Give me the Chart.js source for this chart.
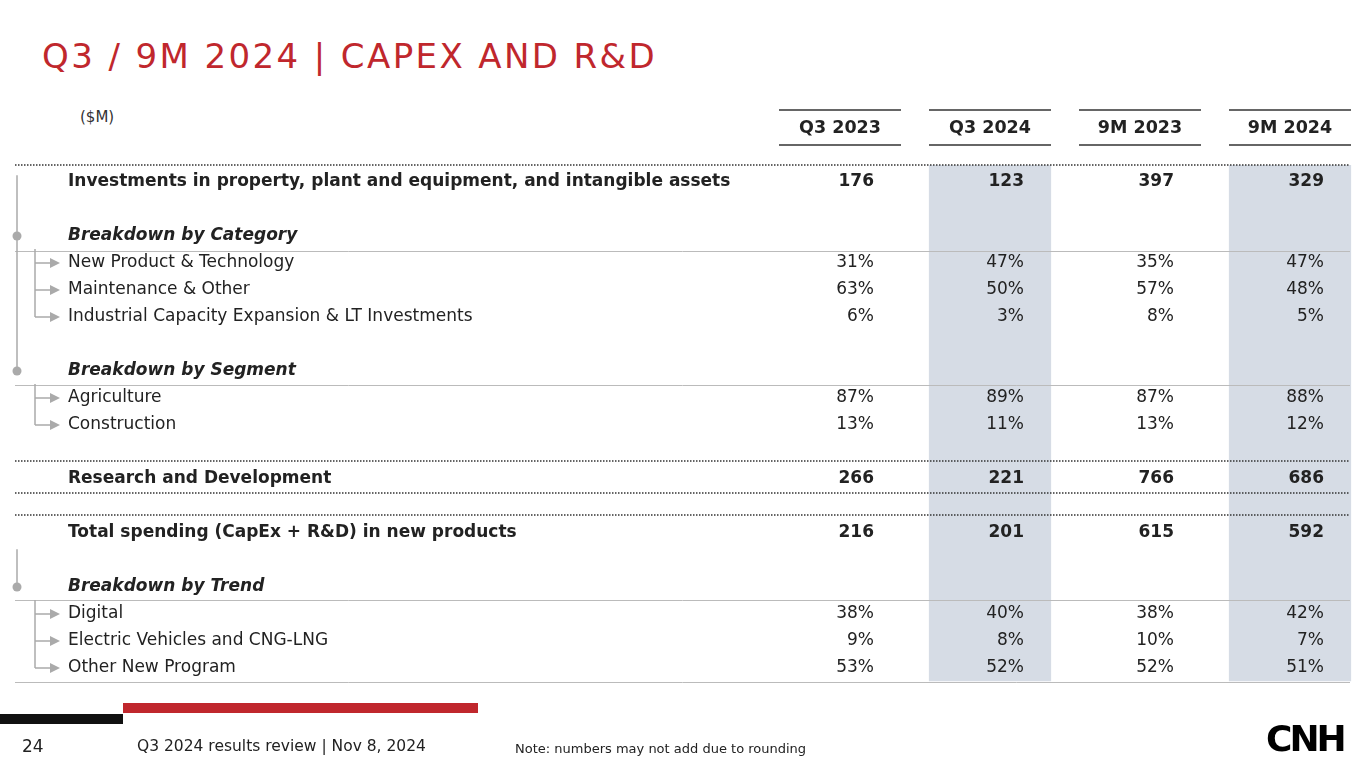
<!DOCTYPE html>
<html>
<head>
<meta charset="utf-8">
<script src="https://cdn.jsdelivr.net/npm/chart.js@4/dist/chart.umd.min.js"></script>
<style>
  body { margin: 0; width: 1365px; height: 768px; overflow: hidden; background: #fff; font-family: "DejaVu Sans", Verdana, sans-serif; position: relative; }
  #title { position: absolute; left: 42px; top: 36px; font-size: 34px; letter-spacing: 2.4px; color: #c0272d; }
  #unit { position: absolute; left: 80px; top: 108px; font-size: 15px; color: #333; }
  #wrap { position: absolute; left: 0; top: 0; width: 1365px; height: 768px; }
  .bar { position: absolute; height: 10px; }
  .foot { position: absolute; color: #222; }
  #logo { position: absolute; left: 1266px; top: 718px; font: bold 36px "DejaVu Sans", sans-serif; letter-spacing: -3px; }
</style>
</head>
<body>
<div id="title">Q3 / 9M 2024 | CAPEX AND R&amp;D</div>
<div id="unit">($M)</div>
<div id="wrap"><canvas id="tbl" width="1365" height="768"></canvas></div>
<div class="bar" style="left:0;top:714px;width:123px;background:#111"></div>
<div class="bar" style="left:123px;top:703px;width:355px;background:#c0272d"></div>
<div class="foot" style="left:22px;top:736px;font-size:17px">24</div>
<div class="foot" style="left:137px;top:737px;font-size:15.5px">Q3 2024 results review | Nov 8, 2024</div>
<div class="foot" style="left:515px;top:741px;font-size:13px">Note: numbers may not add due to rounding</div>
<div id="logo">CNH</div>
<script>
// columns of the table
const columns = ['Q3 2023', 'Q3 2024', '9M 2023', '9M 2024'];
const shadedColumns = ['Q3 2024', '9M 2024'];
// rows: label, style (b = bold, h = bold italic heading, a = arrow item, '' = blank)
const rowLabels = [
  '', '',
  'Investments in property, plant and equipment, and intangible assets', '',
  'Breakdown by Category',
  'New Product & Technology', 'Maintenance & Other', 'Industrial Capacity Expansion & LT Investments', '',
  'Breakdown by Segment',
  'Agriculture', 'Construction', '',
  'Research and Development', '',
  'Total spending (CapEx + R&D) in new products', '',
  'Breakdown by Trend',
  'Digital', 'Electric Vehicles and CNG-LNG', 'Other New Program'
];
const rowStyles = ['', '', 'b', '', 'h', 'a', 'a', 'a', '', 'h', 'a', 'a', '', 'b', '', 'b', '', 'h', 'a', 'a', 'a'];
const q3_2023 = [null, null, '176', null, null, '31%', '63%', '6%', null, null, '87%', '13%', null, '266', null, '216', null, null, '38%', '9%', '53%'];
const q3_2024 = [null, null, '123', null, null, '47%', '50%', '3%', null, null, '89%', '11%', null, '221', null, '201', null, null, '40%', '8%', '52%'];
const m9_2023 = [null, null, '397', null, null, '35%', '57%', '8%', null, null, '87%', '13%', null, '766', null, '615', null, null, '38%', '10%', '52%'];
const m9_2024 = [null, null, '329', null, null, '47%', '48%', '5%', null, null, '88%', '12%', null, '686', null, '592', null, null, '42%', '7%', '51%'];
const values = [q3_2023, q3_2024, m9_2023, m9_2024];
// separators (row positions) : dotted / solid
const dottedLines = [1.37, 12.33, 13.52, 14.33];
const solidLines = [4.55, 9.52, 17.48, 20.5];
const trees = [{ from: 1.75, dot: [4, 9], arrows: [5, 6, 7, 10, 11] }, { from: 15.6, dot: [17], arrows: [18, 19, 20] }];

const slots = ['s0', 's1', 's2', 's3', 's4'].concat(columns);

const tablePlugin = {
  id: 'tablePlugin',
  afterDatasetsDraw(chart) {
    const ctx = chart.ctx, x = chart.scales.x, y = chart.scales.y;
    const left = chart.chartArea.left, right = x.getPixelForValue(slots.length - 1) + 60;
    const labelX = x.getPixelForValue(0) - 22;
    ctx.save();
    // separators
    ctx.strokeStyle = '#333';
    ctx.lineWidth = 1.5;
    ctx.setLineDash([1.5, 1.5]);
    dottedLines.forEach(r => {
      const py = y.getPixelForValue(r);
      ctx.beginPath(); ctx.moveTo(left, py); ctx.lineTo(right, py); ctx.stroke();
    });
    ctx.setLineDash([]);
    ctx.strokeStyle = '#bbb';
    ctx.lineWidth = 1;
    solidLines.forEach(r => {
      const py = Math.round(y.getPixelForValue(r)) + 0.5;
      ctx.beginPath(); ctx.moveTo(left, py); ctx.lineTo(right, py); ctx.stroke();
    });
    ctx.textBaseline = 'middle';
    ctx.fillStyle = '#222';
    // headers
    columns.forEach((c, i) => {
      const cx = x.getPixelForValue(5 + i);
      ctx.font = 'bold 17.5px "DejaVu Sans"';
      ctx.textAlign = 'center';
      ctx.fillText(c, cx, y.getPixelForValue(0));
      ctx.strokeStyle = '#333'; ctx.lineWidth = 1.5;
      [-0.67, 0.63].forEach(r => {
        const py = y.getPixelForValue(r);
        ctx.beginPath(); ctx.moveTo(cx - 61, py); ctx.lineTo(cx + 61, py); ctx.stroke();
      });
    });
    // tree connectors
    ctx.strokeStyle = '#aaa'; ctx.fillStyle = '#aaa'; ctx.lineWidth = 1.5;
    const tx = x.getPixelForValue(0) - 75 + 2;
    trees.forEach(t => {
      const last = Math.max(...t.arrows);
      ctx.beginPath(); ctx.moveTo(tx, y.getPixelForValue(t.from)); ctx.lineTo(tx, y.getPixelForValue(t.dot[t.dot.length - 1])); ctx.stroke();
      t.dot.forEach(d => { ctx.beginPath(); ctx.arc(tx, y.getPixelForValue(d), 4.5, 0, Math.PI * 2); ctx.fill(); });
      t.arrows.forEach(a => {
        const py = y.getPixelForValue(a);
        const ax = tx + 18;
        ctx.beginPath();
        if (a === last || a === 7 || a === 11) { ctx.moveTo(ax, py - 14); ctx.lineTo(ax, py); } else { ctx.moveTo(ax, py - 14); ctx.lineTo(ax, py + 13); }
        ctx.moveTo(ax, py); ctx.lineTo(labelX - 18, py); ctx.stroke();
        ctx.beginPath(); ctx.moveTo(labelX - 8, py); ctx.lineTo(labelX - 18, py - 5); ctx.lineTo(labelX - 18, py + 5); ctx.closePath(); ctx.fill();
      });
    });
    // rows
    ctx.fillStyle = '#222';
    rowLabels.forEach((lab, r) => {
      if (!lab) return;
      const st = rowStyles[r];
      const py = y.getPixelForValue(r);
      ctx.font = (st === 'h' ? 'italic bold ' : st === 'b' ? 'bold ' : '') + '17px "DejaVu Sans"';
      ctx.textAlign = 'left';
      ctx.fillText(lab, labelX, py);
      values.forEach((col, i) => {
        if (col[r] == null) return;
        ctx.textAlign = 'right';
        ctx.fillText(col[r], x.getPixelForValue(5 + i) + 34, py);
      });
    });
    ctx.restore();
  }
};

new Chart(document.getElementById('tbl'), {
  type: 'bar',
  data: {
    labels: slots,
    datasets: [{
      data: shadedColumns.map(c => ({ x: c, y: [1.37, 20.5] })),
      backgroundColor: '#d6dce5',
      barPercentage: 0.815,
      categoryPercentage: 1
    }]
  },
  options: {
    responsive: false,
    animation: false,
    layout: { padding: { left: 15, right: 0, top: 101, bottom: 86.5 } },
    plugins: { legend: { display: false }, tooltip: { enabled: false } },
    scales: {
      x: { display: false, offset: true },
      y: { display: false, reverse: true, min: -1, max: 20.5 }
    }
  },
  plugins: [tablePlugin]
});
</script>
</body>
</html>
